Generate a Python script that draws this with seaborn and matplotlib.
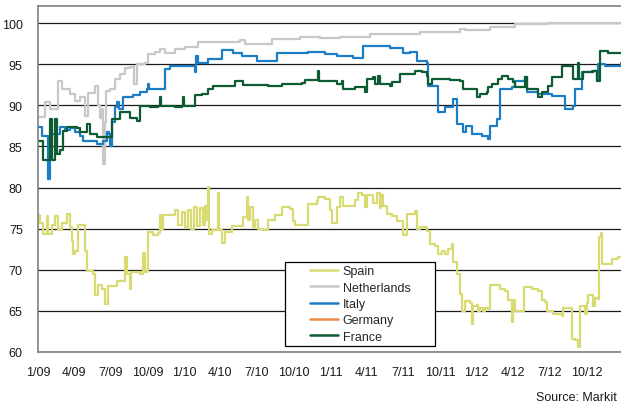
import pandas as pd
import numpy as np
import seaborn as sns
import matplotlib.pyplot as plt
import matplotlib.dates as mdates
from matplotlib.lines import Line2D
from matplotlib.patches import Rectangle

# series: days since 1 Jan 2009, recovery price
start = pd.Timestamp('2009-01-01')

spain_day = [0, 5, 12, 22, 25, 35, 42, 50, 60, 72, 80, 85, 87, 92, 97, 100, 112, 117, 122, 135,
             137, 142, 150, 160, 167, 175, 187, 197, 210, 217, 222, 230, 232, 247, 254, 262, 267, 272,
             274, 287, 299, 304, 307, 312, 329, 342, 349, 359, 367, 374, 382, 389, 397, 404, 412, 417,
             422, 424, 427, 434, 447, 449, 452, 459, 467, 484, 499, 511, 521, 524, 529, 536, 541, 549,
             561, 574, 591, 609, 629, 636, 641, 661, 674, 696, 699, 716, 729, 734, 741, 746, 753, 761,
             786, 791, 798, 808, 816, 821, 836, 846, 853, 856, 861, 871, 883, 896, 908, 911, 921, 933,
             941, 946, 953, 971, 978, 991, 998, 1008, 1015, 1023, 1033, 1035, 1045, 1053, 1058, 1065,
             1078, 1083, 1085, 1095, 1098, 1103, 1110, 1115, 1123, 1128, 1148, 1153, 1165, 1173, 1180,
             1183, 1185, 1190, 1210, 1213, 1228, 1233, 1247, 1257, 1265, 1270, 1285, 1307, 1310, 1327,
             1332, 1340, 1347, 1352, 1365, 1370, 1372, 1382, 1385, 1390, 1397, 1400, 1405, 1407, 1415,
             1432, 1447, 1455]
spain_val = [76.6, 75.7, 74.4, 76.5, 74.4, 75.4, 76.5, 74.8, 75.7, 76.8, 75.2, 73.5, 71.9, 72.3, 72.3,
             75.5, 75.5, 72.3, 69.9, 69.9, 69.5, 66.9, 68.2, 67.6, 65.8, 68.0, 68.0, 68.6, 68.6, 71.5,
             69.5, 67.6, 69.7, 69.7, 69.5, 72.0, 69.7, 69.9, 74.55, 74.2, 74.5, 76.6, 75.0, 76.6, 76.6,
             77.3, 75.5, 77.0, 75.2, 77.3, 75.0, 77.6, 75.3, 77.5, 75.5, 77.7, 76.0, 80.1, 74.4, 74.8,
             74.8, 79.3, 74.8, 73.3, 74.6, 75.3, 75.3, 76.4, 78.9, 76.0, 77.6, 75.2, 76.1, 75.0, 74.8,
             76.1, 76.6, 77.6, 77.4, 75.9, 75.5, 75.5, 78.0, 78.4, 78.8, 78.6, 77.3, 75.7, 75.7, 77.6,
             78.9, 77.8, 77.8, 78.5, 79.3, 79.1, 77.6, 79.1, 78.1, 79.3, 77.5, 79.1, 77.8, 76.8, 76.5,
             75.9, 75.9, 74.2, 76.8, 76.8, 77.1, 75.0, 75.2, 74.7, 73.1, 72.9, 71.9, 72.3, 71.9, 72.5,
             73.1, 70.9, 69.5, 67.0, 65.0, 66.2, 66.0, 63.4, 65.6, 65.7, 65.0, 65.4, 65.0, 65.4, 65.2,
             68.2, 68.2, 67.6, 67.4, 66.3, 66.3, 63.6, 66.3, 65.0, 65.0, 67.9, 67.9, 67.6, 67.4, 66.3,
             66.1, 65.0, 64.6, 64.4, 65.4, 65.4, 61.6, 61.5, 60.6, 65.6, 64.6, 66.0, 66.9, 66.9, 65.6,
             66.6, 66.4, 74.0, 74.5, 70.7, 70.7, 71.3, 71.5, 71.5]

neth_day = [0, 17, 30, 42, 50, 60, 70, 80, 92, 105, 117, 125, 142, 150, 155, 160, 162, 167, 170, 180,
            192, 205, 217, 230, 237, 240, 247, 267, 274, 292, 304, 317, 342, 367, 399, 504, 516, 541,
            579, 584, 654, 704, 753, 828, 953, 1053, 1065, 1128, 1190, 1272, 1455]
neth_val = [88.6, 90.4, 89.5, 89.5, 93.0, 92.0, 92.0, 91.4, 90.5, 91.0, 88.7, 91.5, 92.3, 90.0, 88.5,
            89.5, 82.9, 88.0, 91.7, 92.0, 93.2, 93.8, 94.5, 94.6, 94.8, 92.6, 95.0, 95.2, 96.2, 96.5,
            96.8, 96.3, 96.8, 97.1, 97.7, 97.9, 97.4, 97.4, 97.5, 98.1, 98.3, 98.2, 98.3, 98.7, 98.95,
            99.3, 99.1, 99.5, 99.9, 100.0, 100.0]

italy_day = [0, 10, 17, 25, 30, 35, 47, 55, 67, 80, 92, 105, 112, 137, 147, 162, 172, 177, 180, 185,
             192, 197, 202, 212, 230, 237, 254, 272, 274, 277, 312, 317, 329, 384, 392, 394, 399, 424,
             459, 487, 509, 546, 591, 596, 674, 716, 746, 786, 811, 878, 911, 928, 946, 971, 973, 991,
             998, 1015, 1035, 1045, 1060, 1068, 1083, 1108, 1123, 1128, 1145, 1153, 1183, 1190, 1215,
             1220, 1247, 1282, 1307, 1315, 1335, 1340, 1357, 1382, 1395, 1397, 1415, 1455]
italy_val = [87.4, 86.3, 86.3, 81.0, 86.3, 86.5, 86.5, 87.4, 87.0, 87.2, 86.8, 86.3, 85.7, 85.7, 85.3,
             85.7, 86.7, 86.5, 85.1, 88.0, 89.8, 90.4, 89.5, 91.0, 91.0, 91.3, 91.6, 92.0, 92.6, 92.0,
             92.0, 94.4, 94.8, 94.8, 94.1, 96.0, 95.2, 95.6, 96.75, 96.4, 96.0, 95.4, 95.4, 96.4, 96.5,
             96.2, 96.0, 95.8, 97.2, 97.0, 96.4, 96.5, 95.4, 95.2, 92.4, 92.4, 89.2, 89.8, 90.8, 87.7,
             86.7, 87.5, 86.5, 86.3, 85.9, 87.5, 88.3, 92.0, 92.2, 93.0, 93.4, 91.6, 91.4, 91.1, 91.1,
             89.6, 89.9, 92.0, 94.0, 94.2, 93.0, 95.0, 94.8, 95.2]

germany_day = []
germany_val = []

france_day = [0, 12, 25, 30, 35, 42, 47, 55, 62, 72, 97, 105, 122, 130, 147, 172, 185, 197, 205, 222,
              230, 247, 254, 279, 299, 304, 307, 342, 359, 362, 364, 392, 409, 424, 437, 467, 492, 511,
              574, 609, 659, 666, 696, 699, 701, 711, 746, 758, 761, 791, 813, 816, 821, 836, 841, 848,
              853, 878, 883, 903, 928, 941, 958, 971, 973, 983, 1028, 1053, 1060, 1090, 1095, 1103, 1120,
              1123, 1133, 1148, 1158, 1173, 1185, 1190, 1213, 1215, 1220, 1245, 1247, 1257, 1272, 1282,
              1305, 1307, 1332, 1335, 1345, 1347, 1350, 1360, 1385, 1395, 1402, 1422, 1455]
france_val = [85.7, 83.3, 83.3, 88.3, 83.3, 88.3, 84.1, 84.6, 86.9, 87.4, 87.2, 86.7, 87.7, 86.5, 86.1,
              86.1, 88.3, 88.3, 89.2, 89.2, 88.5, 88.1, 89.95, 89.8, 89.9, 91.0, 89.9, 89.75, 89.9, 91.0,
              89.9, 91.2, 91.4, 92.0, 92.3, 92.4, 93.0, 92.5, 92.4, 92.6, 92.7, 93.1, 93.1, 94.2, 93.0,
              93.0, 92.6, 93.0, 92.0, 92.2, 92.2, 91.6, 93.2, 93.4, 92.6, 93.6, 92.6, 92.4, 92.8, 93.8,
              93.8, 94.2, 94.0, 93.6, 92.6, 93.2, 93.1, 93.0, 92.0, 92.0, 91.0, 91.4, 91.6, 92.2, 92.6,
              93.2, 93.6, 93.2, 92.8, 92.2, 92.2, 93.4, 92.0, 92.0, 91.0, 91.6, 92.4, 93.4, 93.4, 94.8,
              94.8, 93.2, 93.2, 95.2, 93.2, 94.0, 94.2, 93.0, 96.6, 96.4, 96.4]

countries = ['Spain', 'Netherlands', 'Italy', 'Germany', 'France']
colors = ['#d9db72', '#c8c8c8', '#1b7dc6', '#f0884a', '#0d5b33']
yticks = [60, 65, 70, 75, 80, 85, 90, 95, 100]

series = {'Spain': (spain_day, spain_val), 'Netherlands': (neth_day, neth_val),
          'Italy': (italy_day, italy_val), 'Germany': (germany_day, germany_val),
          'France': (france_day, france_val)}
frames = []
for name in countries:
    d, v = series[name]
    frames.append(pd.DataFrame({'date': start + pd.to_timedelta(d, unit='D'),
                                'value': v, 'country': name}))
df = pd.concat(frames, ignore_index=True)
df['date'] = pd.to_datetime(df['date'])

sns.set_style('white')
plt.rcParams['font.family'] = ['Liberation Sans', 'DejaVu Sans']

fig = plt.figure(figsize=(6.21, 4.06), dpi=100)
ax = fig.add_axes([38 / 621, 1 - 353 / 406, 583 / 621, 346 / 406])

drawn = [c for c in countries if len(series[c][0]) > 0]
sns.lineplot(data=df[df['country'].isin(drawn)], x='date', y='value', hue='country',
             hue_order=drawn, palette=dict(zip(countries, colors)), estimator=None,
             sort=False, linewidth=1.6, drawstyle='steps-post', legend=False, ax=ax)

ax.set_ylim(60, 102.07)
ax.set_yticks(yticks)
ax.set_xlim(start, start + pd.Timedelta(days=1455))
ax.xaxis.set_major_locator(mdates.MonthLocator(bymonth=[1, 4, 7, 10]))
ax.xaxis.set_major_formatter(plt.FuncFormatter(
    lambda x, pos: '{}/{}'.format(mdates.num2date(x).month, mdates.num2date(x).strftime('%y'))))
ax.set_xlabel('')
ax.set_ylabel('')
ax.yaxis.grid(True, color='#1a1a1a', linewidth=0.9)
ax.xaxis.grid(False)
ax.set_axisbelow(True)
ax.tick_params(axis='both', length=0, labelsize=9, colors='#1a1a1a')
ax.tick_params(axis='x', pad=10)
ax.tick_params(axis='y', pad=11)
for s in ['left', 'bottom', 'top']:
    ax.spines[s].set_color('#808080')
    ax.spines[s].set_linewidth(1.2)
ax.spines['right'].set_visible(False)

# legend box drawn separately so its padding matches the original
bx, by, bw, bh = (285 - 38) / 583, (353 - 347) / 346, 150 / 583, 84 / 346
ax.add_patch(Rectangle((bx, by), bw, bh, transform=ax.transAxes, facecolor='white',
                       edgecolor='black', linewidth=0.9, zorder=4))
handles = [Line2D([0], [0], color=c, lw=1.8) for c in colors]
ax.legend(handles, countries, loc='center', bbox_to_anchor=(bx + bw / 2, by + bh / 2),
          frameon=False, fontsize=9, handlelength=2.3, handletextpad=0.35,
          labelspacing=0.35, borderpad=0.2)

fig.text(617 / 621, 1 - 398 / 406, 'Source: Markit', ha='right', va='center', fontsize=9,
         color='#1a1a1a')

fig.savefig('out.png', dpi=100)
